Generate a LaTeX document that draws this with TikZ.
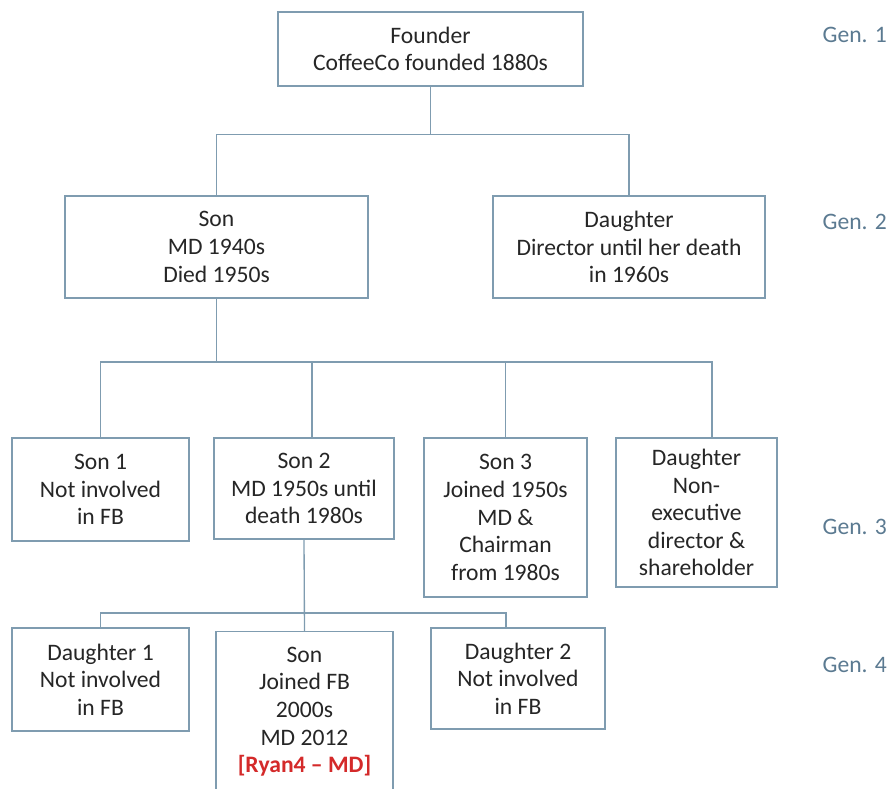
\documentclass[tikz,border=0pt]{standalone}
\usepackage{fontspec}
\setmainfont{Carlito}
\usetikzlibrary{calc}
\definecolor{boxline}{HTML}{7F9CB0}
\definecolor{genblue}{HTML}{5B7A91}
\definecolor{ryanred}{HTML}{D42A2A}
\begin{document}
\begin{tikzpicture}[x=0.75pt,y=-0.75pt,
  wh/.style 2 args={minimum width={#1*0.75pt},minimum height={#2*0.75pt}},
  person/.style={draw=boxline, line width=1pt, fill=white, align=center,
    inner sep=0pt, text=black!85, font=\fontsize{17.7}{20.7}\selectfont},
  link/.style={draw=boxline, line width=1pt},
  gen/.style={text=genblue, anchor=east, inner sep=0pt,
    font=\fontsize{17.7}{20.7}\selectfont}]
\useasboundingbox (0,0) rectangle (890,789);
\clip (0,0) rectangle (890,789);

% generation 1
\node[person, wh={305}{74}] (founder) at (430.5,49) {Founder\\CoffeeCo founded 1880s};

% generation 2
\node[person, wh={303}{102}] (son) at (216.5,247) {Son\\MD 1940s\\Died 1950s};
\node[person, wh={272}{102}] (daughter) at (629,247) {Daughter\\Director until her death\\in 1960s};

% generation 3
\node[person, wh={177}{103}] (son1) at (100.5,489.5) {Son 1\\Not involved\\in FB};
\node[person, wh={180}{101}] (son2) at (304,488.5) {Son 2\\MD 1950s until\\death 1980s};
\node[person, wh={163}{159}] (son3) at (505.5,517.5) {Son 3\\Joined 1950s\\MD \&\\Chairman\\from 1980s};
\node[person, wh={161}{149}] (dau3) at (696.5,512.5) {Daughter\\Non-\\executive\\director \&\\shareholder};

% generation 4
\node[person, wh={177}{103}] (dau1) at (100.5,679.5) {Daughter 1\\Not involved\\in FB};
\node[person, wh={177}{160}, anchor=north] (son4) at (304.5,631)
  {Son\\Joined FB\\2000s\\MD 2012\\\textcolor{ryanred}{\bfseries [Ryan4 – MD]}};
\node[person, wh={174}{101}] (dau2) at (518,678.5) {Daughter 2\\Not involved\\in FB};

% junctions of the family lines
\path (founder.south) ++(0,48) coordinate (j1);
\path (son.south) ++(0,64) coordinate (j2);
\path (son2.south) ++(0,74) coordinate (j3);
\coordinate (t2) at (312,362);
\coordinate (t4) at (712,362);
\coordinate (t6) at (506,613);

% founder to his children
\draw[link] (founder.south) -- (j1);
\draw[link] (son.north) |- (j1) -| (daughter.north);

% son to his children
\draw[link] (son.south) -- (j2);
\draw[link] (son1.north) |- (t4) -- (t4 |- dau3.north);
\draw[link] (t2) -- (t2 |- son2.north);
\draw[link] (son3.north) -- (son3.north |- j2);

% son 2 to his children
\draw[link] (son2.south) -- (son4.north);
\draw[link] (dau1.north) |- (t6) -- (t6 |- dau2.north);

% generation labels
\node[gen] (g1) at (887,35) {Gen. 1};
\node[gen] (g2) at (887,222) {Gen. 2};
\node[gen] (g3) at (887,527) {Gen. 3};
\node[gen] (g4) at (887,665) {Gen. 4};
\end{tikzpicture}
\end{document}
